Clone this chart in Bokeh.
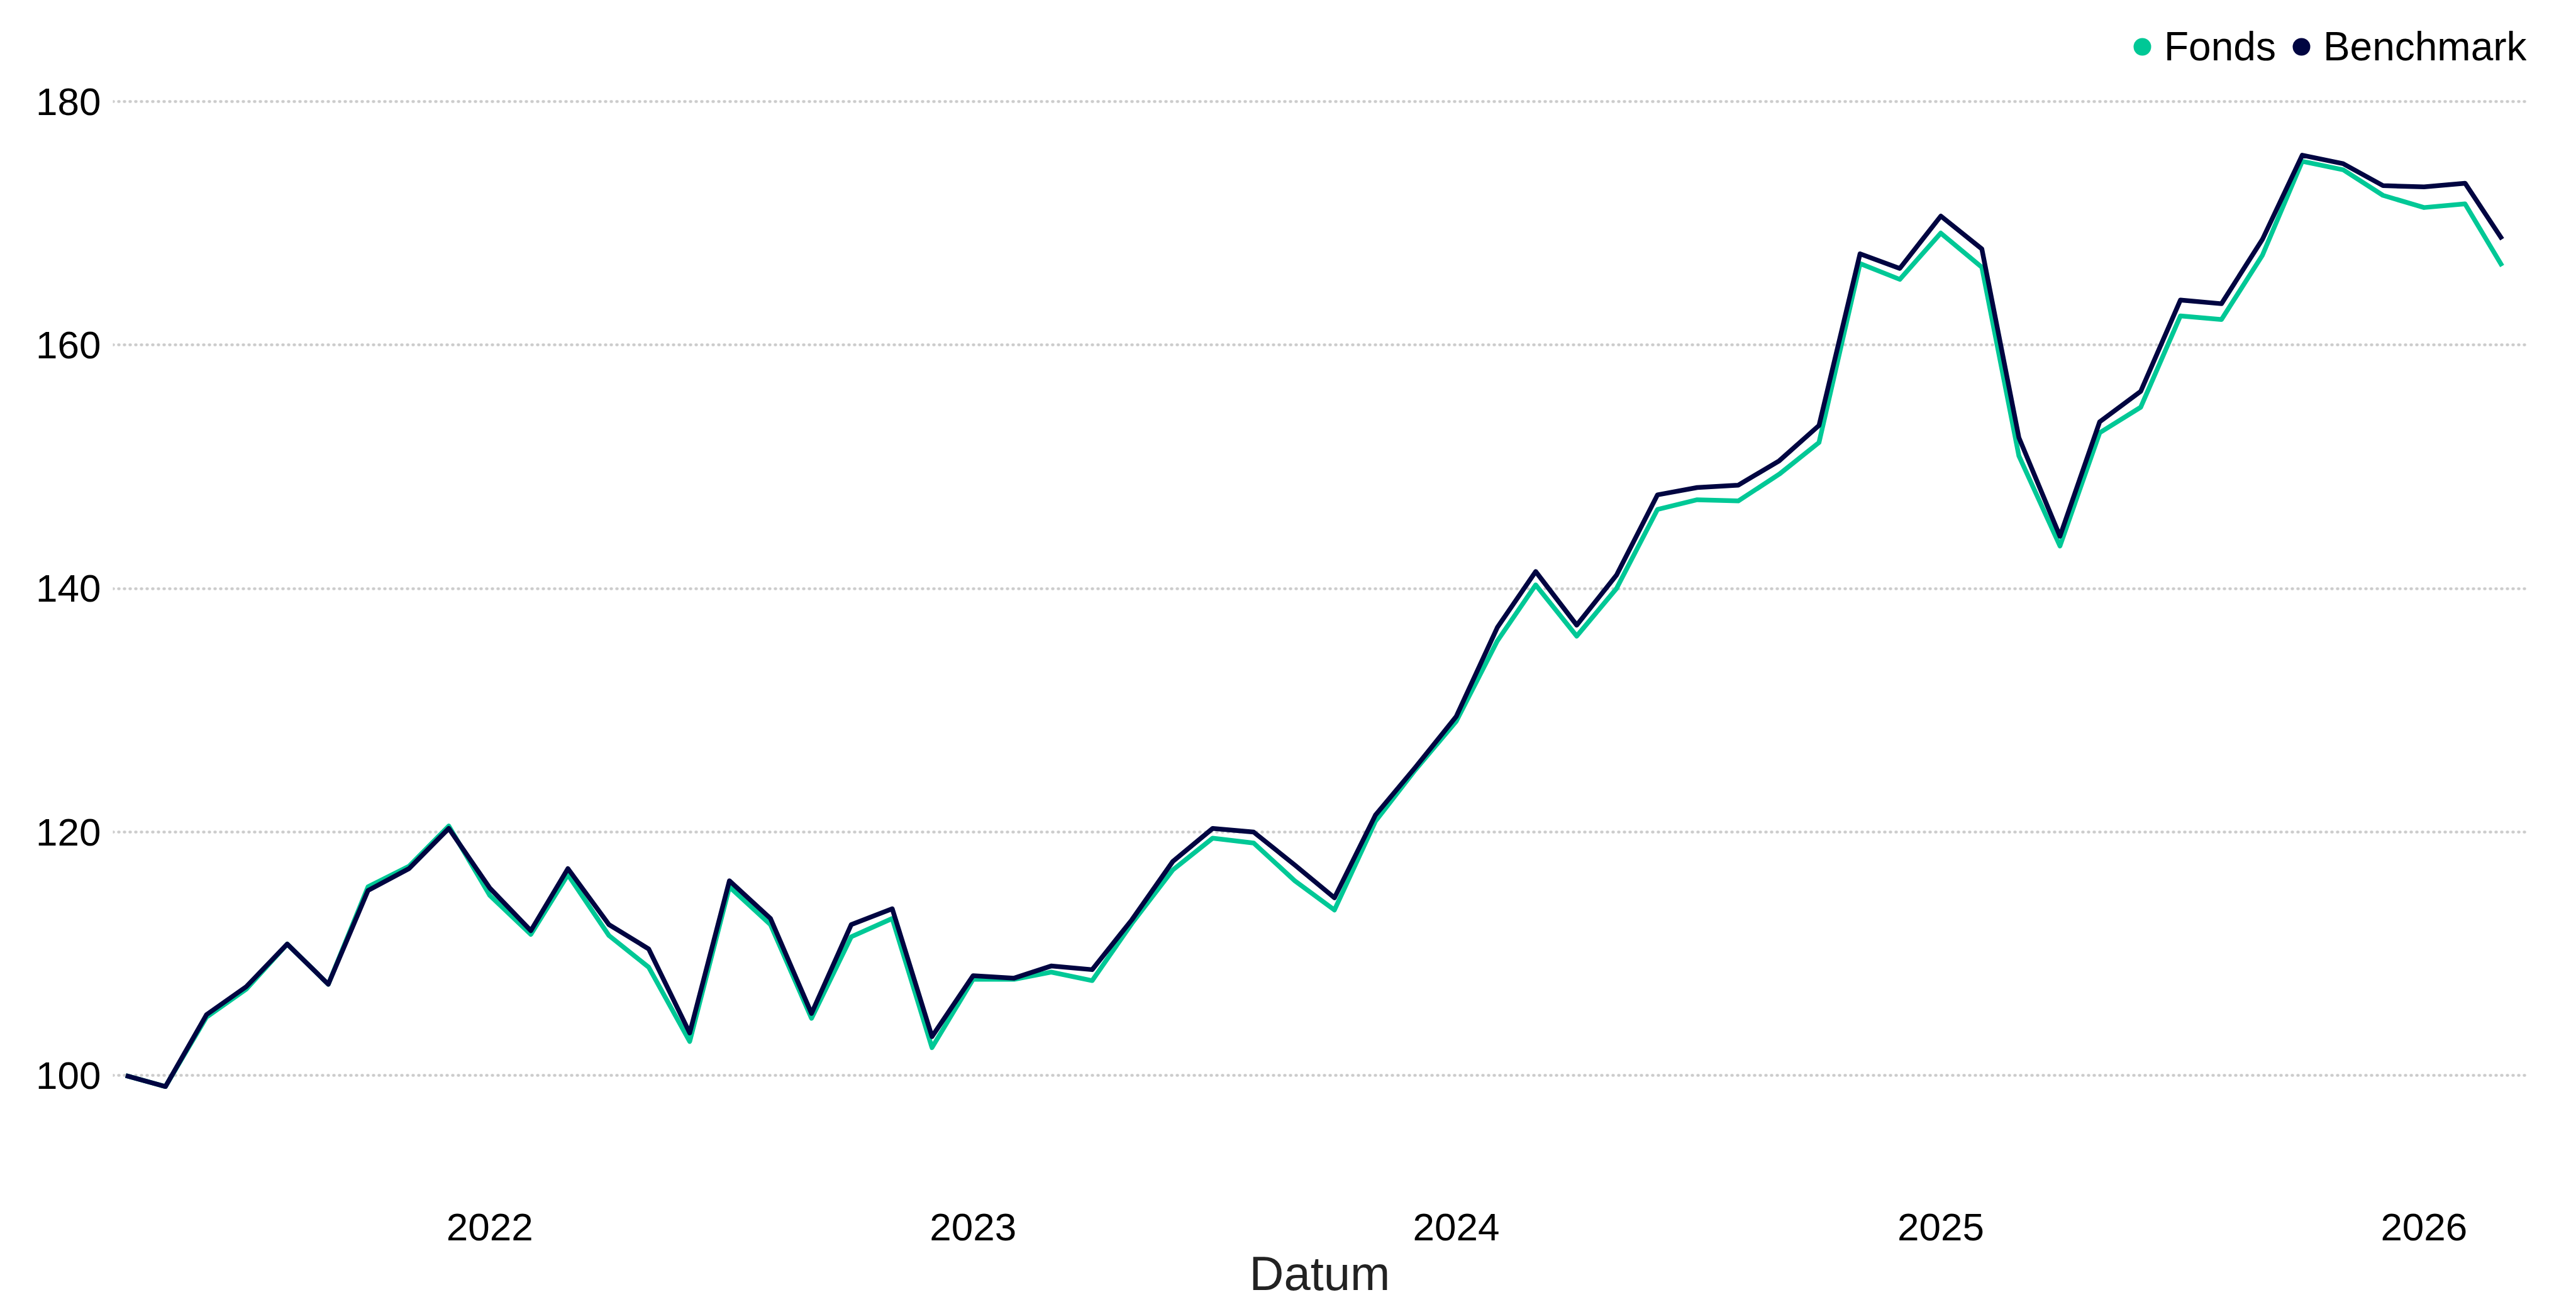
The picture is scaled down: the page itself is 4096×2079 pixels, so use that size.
import pandas as pd
from bokeh.plotting import figure
from bokeh.models import (Range1d, FixedTicker, DatetimeTickFormatter, Legend,
                          LegendItem, ColumnDataSource)
from bokeh.embed import file_html
from bokeh.resources import INLINE

# ---------------- data ----------------
start_month = "2021-04-01"
fonds = [100.0, 99.1, 104.8, 107.1, 110.8, 107.5, 115.5, 117.2, 120.5, 114.8,
         111.6, 116.5, 111.5, 108.9, 102.8, 115.5, 112.4, 104.7, 111.4, 112.9,
         102.3, 107.9, 107.9, 108.5, 107.8, 112.5, 116.9, 119.5, 119.1, 116.0,
         113.6, 120.9, 125.1, 129.1, 135.7, 140.3, 136.1, 140.0, 146.5, 147.3,
         147.2, 149.4, 152.0, 166.7, 165.4, 169.2, 166.4, 150.9, 143.5, 152.8,
         154.9, 162.4, 162.1, 167.4, 175.1, 174.4, 172.3, 171.3, 171.6, 166.5]
benchmark = [100.0, 99.1, 105.0, 107.3, 110.8, 107.5, 115.2, 117.0, 120.3, 115.4,
             111.9, 117.0, 112.4, 110.4, 103.5, 116.0, 112.9, 105.1, 112.4, 113.7,
             103.2, 108.2, 108.0, 109.0, 108.7, 112.8, 117.6, 120.3, 120.0, 117.3,
             114.6, 121.4, 125.3, 129.5, 136.8, 141.4, 137.0, 141.1, 147.7, 148.3,
             148.5, 150.5, 153.4, 167.5, 166.3, 170.6, 167.9, 152.4, 144.3, 153.7,
             156.2, 163.7, 163.4, 168.7, 175.6, 174.9, 173.1, 173.0, 173.3, 168.7]
series_names = ["Fonds", "Benchmark"]
series_colors = ["#00C896", "#000541"]
year_ticks = [2022, 2023, 2024, 2025, 2026]
y_ticks = [100, 120, 140, 160, 180]
x_label = "Datum"

dates = pd.date_range(start_month, periods=len(fonds), freq="MS")
src = ColumnDataSource(dict(date=dates, fonds=fonds, benchmark=benchmark))

x_start = (dates[0] - pd.Timedelta(days=9.7)).to_pydatetime()
x_end = (dates[-1] + pd.Timedelta(days=18.5)).to_pydatetime()

FONT = "Liberation Sans"

p = figure(width=4083, height=2079, x_axis_type="datetime",
           x_range=Range1d(x_start, x_end), y_range=Range1d(90, 186.36),
           output_backend="svg", toolbar_location=None,
           min_border_left=179, min_border_right=66,
           min_border_top=38, min_border_bottom=175)
p.outline_line_color = None
p.background_fill_color = "white"
p.border_fill_color = "white"

r_f = p.line("date", "fonds", source=src, line_color=series_colors[0],
             line_width=7.5, line_join="round")
r_b = p.line("date", "benchmark", source=src, line_color=series_colors[1],
             line_width=7.5, line_join="round")

# legend proxies (circle markers, not drawn on the plot)
s_f = p.scatter("date", "fonds", source=src, marker="circle",
                fill_color=series_colors[0], line_color=None, visible=False)
s_b = p.scatter("date", "benchmark", source=src, marker="circle",
                fill_color=series_colors[1], line_color=None, visible=False)

legend = Legend(items=[LegendItem(label=series_names[0], renderers=[s_f]),
                       LegendItem(label=series_names[1], renderers=[s_b])],
                location=(3192, 1793), orientation="horizontal",
                glyph_width=70, glyph_height=72, label_standoff=0, spacing=5,
                padding=0, margin=0, border_line_alpha=0,
                background_fill_alpha=0,
                label_text_font=FONT, label_text_font_size="64px",
                label_text_color="black")
p.add_layout(legend)

# axes
year_ms = [pd.Timestamp(f"{y}-01-01").value / 1e6 for y in year_ticks]
p.xaxis.ticker = FixedTicker(ticks=year_ms)
p.xaxis.formatter = DatetimeTickFormatter(years="%Y", months="%Y", days="%Y",
                                          hours="%Y", minutes="%Y")
p.yaxis.ticker = FixedTicker(ticks=y_ticks)
p.xaxis.axis_label = x_label
p.xaxis.axis_label_text_font = FONT
p.xaxis.axis_label_text_font_size = "76px"
p.xaxis.axis_label_text_font_style = "normal"
p.xaxis.axis_label_text_color = "#222222"
p.xaxis.axis_label_standoff = 7
for ax in (p.xaxis, p.yaxis):
    ax.axis_line_color = None
    ax.major_tick_line_color = None
    ax.minor_tick_line_color = None
    ax.major_tick_out = 0
    ax.minor_tick_out = 0
    ax.major_tick_in = 0
    ax.minor_tick_in = 0
    ax.major_label_text_font = FONT
    ax.major_label_text_font_size = "62px"
    ax.major_label_text_color = "black"
p.yaxis.major_label_standoff = 19
p.xaxis.major_label_standoff = 26

p.xgrid.visible = False
p.ygrid.grid_line_color = "#cccccc"
p.ygrid.grid_line_width = 4.5
p.ygrid.grid_line_dash = "1 8"
p.ygrid.grid_line_cap = "round"

open("out.html", "w").write(file_html(p, INLINE))
